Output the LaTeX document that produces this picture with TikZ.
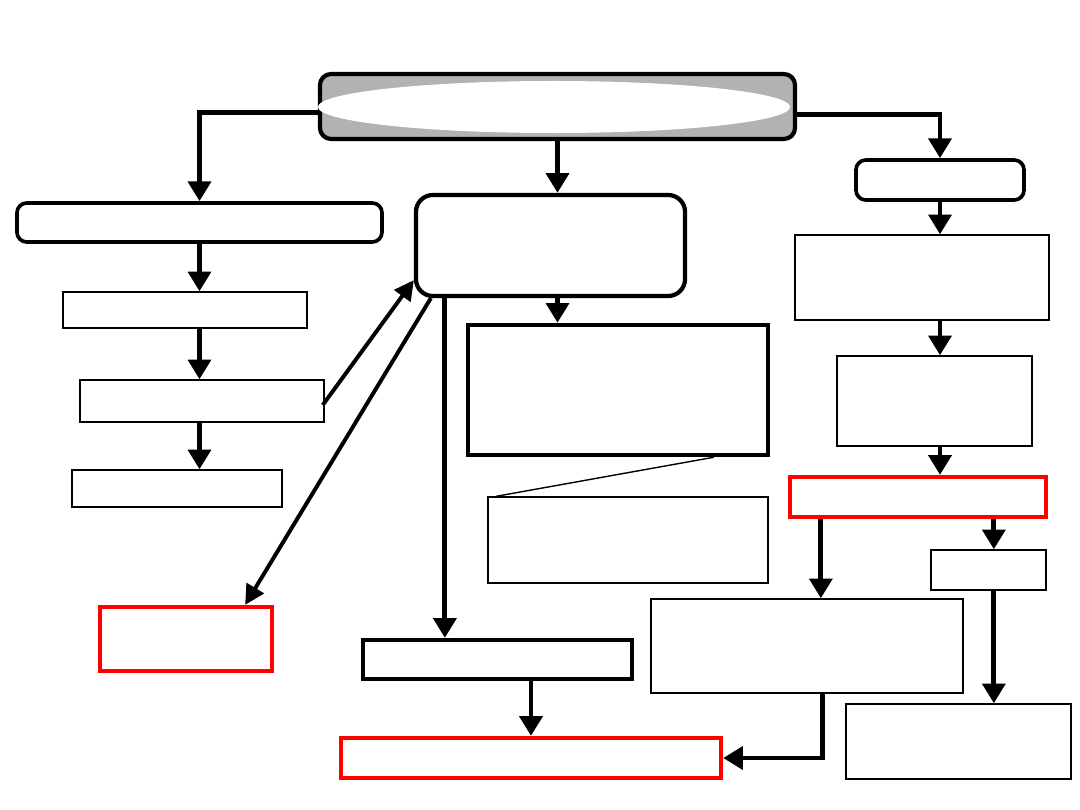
\documentclass[tikz,border=0pt]{standalone}
\usetikzlibrary{calc,positioning,arrows.meta,shapes.geometric}
\definecolor{BarGray}{HTML}{B2B2B2}
\definecolor{AlertRed}{HTML}{FF0000}

\tikzset{
  thinbox/.style={draw=black, line width=1pt, fill=white, inner sep=0pt},
  boldbox/.style={draw=black, line width=3pt, fill=white, inner sep=0pt},
  redbox/.style={draw=AlertRed, line width=3pt, fill=white, inner sep=0pt},
  roundbox/.style={draw=black, line width=2.6pt, fill=white, inner sep=0pt, rounded corners=7pt},
  arr/.style={line width=3.5pt, -{Triangle[width=16pt,length=14pt]}},
  slimarr/.style={line width=2.8pt, -{Triangle[width=14pt,length=14pt]}}
}

\begin{document}
\begin{tikzpicture}[x=0.025cm, y=-0.025cm]
      \useasboundingbox (0,0) rectangle (1080,810);
      \node[
        draw=black,
        line width=3pt,
        fill=BarGray,
        rounded corners=8pt,
        minimum width=11.875cm,
        minimum height=1.625cm,
        inner sep=0pt
      ] (top) at (557.5,106.5) {};
      \node[
        ellipse,
        fill=white,
        minimum width=11.8cm,
        minimum height=1.3cm,
        inner sep=0pt
      ] (oval) at (554,107) {};
      \node[roundbox, minimum width=9.125cm, minimum height=0.975cm] (l1) at (199.5,222.5) {};
      \node[thinbox, minimum width=6.1cm, minimum height=0.9cm] (l2) at (185,310) {};
      \node[thinbox, minimum width=6.1cm, minimum height=1.05cm] (l3) at (202,401) {};
      \node[thinbox, minimum width=5.25cm, minimum height=0.925cm] (l4) at (177,488.5) {};
      \node[redbox, minimum width=4.3cm, minimum height=1.6cm] (r1) at (186,639) {};
      \node[
        draw=black,
        line width=3pt,
        fill=white,
        rounded corners=12pt,
        minimum width=6.725cm,
        minimum height=2.525cm,
        inner sep=0pt
      ] (c1) at (550.5,245.5) {};
      \node[boldbox, line width=3.2pt, minimum width=7.5cm, minimum height=3.25cm] (c2) at (618,390) {};
      \node[thinbox, minimum width=7cm, minimum height=2.15cm] (c3) at (628,540) {};
      \node[boldbox, minimum width=6.725cm, minimum height=0.975cm] (c4) at (497.5,659.5) {};
      \node[redbox, minimum width=9.5cm, minimum height=1cm] (r2) at (531,758) {};
      \node[roundbox, minimum width=4.2cm, minimum height=1cm] (q1) at (940,180) {};
      \node[thinbox, minimum width=6.35cm, minimum height=2.125cm] (q2) at (922,277.5) {};
      \node[thinbox, minimum width=4.875cm, minimum height=2.25cm] (q3) at (934.5,401) {};
      \node[redbox, minimum width=6.4cm, minimum height=1cm] (q4) at (918,497) {};
      \node[thinbox, minimum width=2.875cm, minimum height=1cm] (q5) at (988.5,570) {};
      \node[thinbox, minimum width=7.8cm, minimum height=2.35cm] (q6) at (807,646) {};
      \node[thinbox, minimum width=5.625cm, minimum height=1.875cm] (q7) at (958.5,741.5) {};

      \coordinate (c1a) at ($(c1.south west)+(31,0)$);
      \coordinate (c1b) at ($(c1.south)+(7,0)$);
      \coordinate (q4a) at ($(q4.south west)+(33,0)$);
      \coordinate (q4b) at ($(q4.south west)+(206,0)$);

      \draw[arr] ($(top.west)+(0,6)$) -| (l1.north);
      \draw[arr] (top.south) -- (top.south |- c1.north);
      \draw[arr] ($(top.east)+(0,8)$) -| (q1.north);
      \draw[arr] (l1.south) -- (l1.south |- l2.north);
      \draw[arr] (l1.south |- l2.south) -- (l1.south |- l3.north);
      \draw[arr] (l1.south |- l3.south) -- (l1.south |- l4.north);
      \draw[slimarr] ($(l3.east)+(-2,4)$) -- ($(c1.south west)+(0,-18)$);
      \draw[slimarr] ($(c1.south west)+(17,0)$) -- ($(r1.north east)+(-29,0)$);
      \draw[arr] (c1a) -- (c1a |- c4.north);
      \draw[arr] (c1b) -- (c1b |- c2.north);
      \draw[line width=1pt] ($(c2.south west)+(248,0)$) -- ($(c3.north west)+(9,0)$);
      \draw[arr] (r2.north |- c4.south) -- (r2.north);
      \draw[arr] (q1.south) -- (q1.south |- q2.north);
      \draw[arr] (q1.south |- q2.south) -- (q1.south |- q3.north);
      \draw[arr] (q1.south |- q3.south) -- (q1.south |- q4.north);
      \draw[arr] (q4a) -- (q4a |- q6.north);
      \draw[arr] (q4b) -- (q4b |- q5.north);
      \draw[arr] (q4b |- q5.south) -- (q4b |- q7.north);
      \draw[arr] ($(q6.south west)+(172,0)$) |- (r2.east);
    \end{tikzpicture}
\end{document}
